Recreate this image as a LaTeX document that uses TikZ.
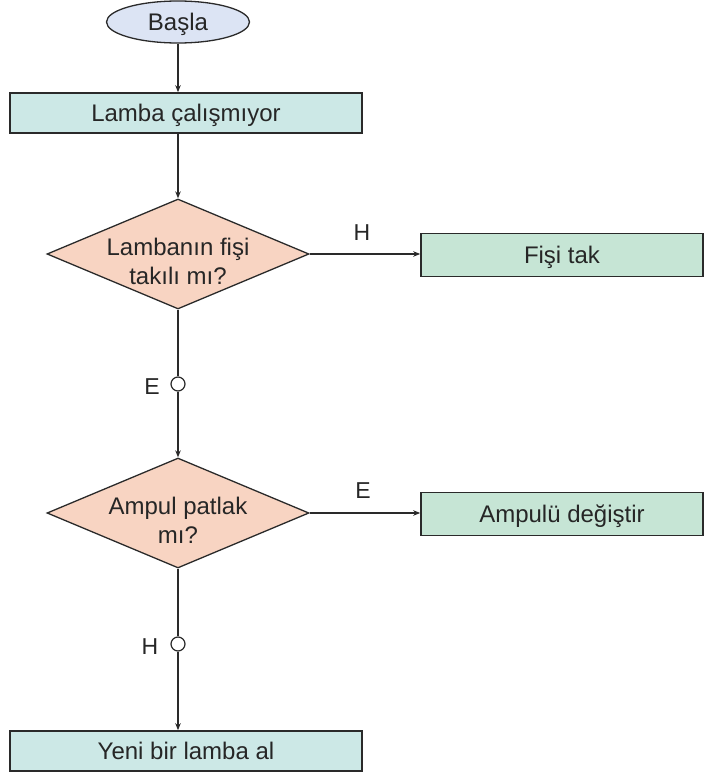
\documentclass[tikz,border=0pt]{standalone}
\usepackage{fontspec}
\setmainfont{Liberation Sans}
\usetikzlibrary{shapes.geometric,arrows.meta}

\definecolor{startfill}{HTML}{DCE4F4}
\definecolor{stepfill}{HTML}{CCE8E6}
\definecolor{askfill}{HTML}{F8D4C2}
\definecolor{actfill}{HTML}{C6E5D5}
\definecolor{edgegray}{HTML}{2A2A2A}

\tikzset{
  txt/.style={font=\fontsize{24}{28.5}\selectfont, text=black!85},
  oneline/.style={txt, text height=17pt, text depth=0pt},
  startnode/.style={oneline, ellipse, draw=edgegray, line width=1.3pt, fill=startfill,
    minimum width=143pt, minimum height=42pt, inner sep=0pt},
  stepbox/.style={oneline, rectangle, draw=edgegray, line width=1.6pt, fill=stepfill,
    minimum width=352pt, minimum height=40pt, inner sep=0pt},
  actbox/.style={oneline, rectangle, draw=edgegray, line width=1.6pt, fill=actfill,
    minimum width=282pt, minimum height=43pt, inner sep=0pt},
  ask/.style={diamond, draw=edgegray, line width=1.3pt, fill=askfill,
    aspect=2.38, minimum width=262pt, minimum height=110pt, inner sep=0pt},
  asktext/.style={txt, align=center, inner sep=0pt},
  knot/.style={circle, draw=edgegray, line width=1.2pt, fill=white,
    minimum size=14pt, inner sep=0pt},
  link/.style={draw=edgegray, line width=1.3pt},
  flow/.style={link, -{Stealth[length=7pt,width=5.5pt]}},
  lbl/.style={font=\fontsize{23}{27}\selectfont, text=black!85,
    text height=16pt, text depth=0pt, inner sep=0pt}
}

\begin{document}
\begin{tikzpicture}[x=1pt,y=-1pt]
  \useasboundingbox (0,0) rectangle (705,776);

  % nodes
  \node[startnode] (start) at (178,22) {Başla};
  \node[stepbox] (broken) at (186,113) {Lamba çalışmıyor};
  \node[ask] (plug) at (178,254) {};
  \node[asktext] (plugtext) at (178,261.5) {Lambanın fişi\\takılı mı?};
  \node[actbox] (plugin) at (562,255) {Fişi tak};
  \node[knot] (yes1) at (178,384) {};
  \node[ask] (bulb) at (178,513) {};
  \node[asktext] (bulbtext) at (178,520.5) {Ampul patlak\\mı?};
  \node[actbox] (swap) at (562,514) {Ampulü değiştir};
  \node[knot] (no2) at (178,644) {};
  \node[stepbox] (buy) at (186,751) {Yeni bir lamba al};

  % connectors
  \draw[flow] (start.south) -- (broken.north -| start.south);
  \draw[flow] (broken.south -| plug.north) -- (plug.north);
  \draw[flow] (plug.east) -- (plugin.west |- plug.east);
  \node[lbl] (hno1) at (362,232) {H};
  \draw[link] (plug.south) -- (yes1);
  \node[lbl] (eyes1) at (152,386) {E};
  \draw[flow] (yes1) -- (bulb.north);
  \draw[flow] (bulb.east) -- (swap.west |- bulb.east);
  \node[lbl] (eyes2) at (363,490) {E};
  \draw[link] (bulb.south) -- (no2);
  \node[lbl] (hno2) at (150,646) {H};
  \draw[flow] (no2) -- (buy.north -| no2);
\end{tikzpicture}
\end{document}
